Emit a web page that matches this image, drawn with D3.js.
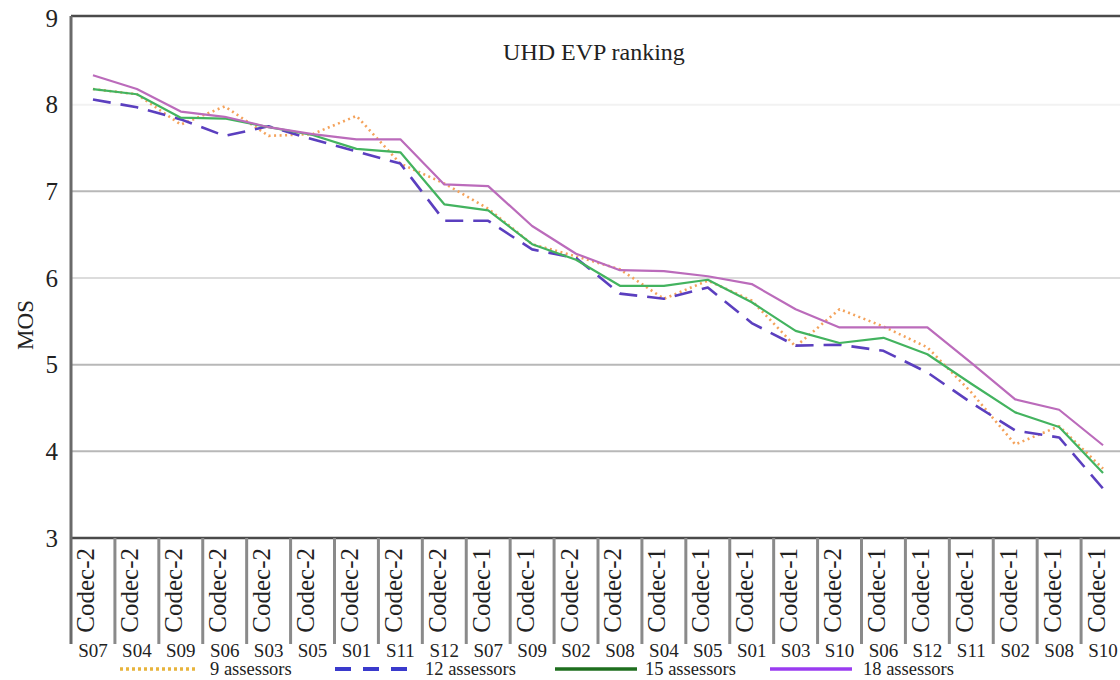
<!DOCTYPE html>
<html>
<head>
<meta charset="utf-8">
<script src="https://cdn.jsdelivr.net/npm/d3@7"></script>
<style>
  body { margin: 0; background: #fff; }
  text { font-family: "Liberation Serif", "DejaVu Serif", serif; fill: #222; }
</style>
</head>
<body>
<svg id="chart" width="1120" height="680"></svg>
<script>
const codecs = ["Codec-2","Codec-2","Codec-2","Codec-2","Codec-2","Codec-2","Codec-2","Codec-2","Codec-2",
  "Codec-1","Codec-1","Codec-2","Codec-2","Codec-1","Codec-1","Codec-1","Codec-1","Codec-2",
  "Codec-1","Codec-1","Codec-1","Codec-1","Codec-1","Codec-1"];
const scenes = ["S07","S04","S09","S06","S03","S05","S01","S11","S12","S07","S09","S02",
  "S08","S04","S05","S01","S03","S10","S06","S12","S11","S02","S08","S10"];

const mos9  = [8.18,8.12,7.77,7.98,7.64,7.66,7.87,7.32,7.09,6.80,6.39,6.25,6.10,5.76,5.97,5.74,5.21,5.64,5.44,5.20,4.68,4.08,4.29,3.80];
const mos12 = [8.06,7.97,7.83,7.64,7.75,7.60,7.46,7.32,6.66,6.66,6.33,6.23,5.82,5.76,5.89,5.48,5.22,5.23,5.16,4.91,4.56,4.24,4.16,3.57];
const mos15 = [8.18,8.12,7.85,7.84,7.74,7.65,7.49,7.45,6.85,6.78,6.39,6.21,5.91,5.91,5.98,5.72,5.39,5.25,5.31,5.12,4.78,4.45,4.28,3.75];
const mos18 = [8.34,8.18,7.92,7.86,7.74,7.66,7.60,7.60,7.08,7.06,6.60,6.28,6.09,6.08,6.02,5.93,5.64,5.43,5.43,5.43,5.02,4.60,4.48,4.07];

const yTicks = [3,4,5,6,7,8,9];

const series = [
  { name: "9 assessors",  values: mos9,  color: "#f4a35c", dash: "2,3.5", width: 2.6, legColor: "#e8b43c", legDash: "3,3", legWidth: 3.5 },
  { name: "12 assessors", values: mos12, color: "#5b3fbf", dash: "18,10", width: 2.6, legColor: "#3a3acc", legDash: "16,12", legWidth: 4 },
  { name: "15 assessors", values: mos15, color: "#43b35f", dash: null,    width: 2.2, legColor: "#1e6e1e", legDash: null, legWidth: 3.5 },
  { name: "18 assessors", values: mos18, color: "#bb6bbb", dash: null,    width: 2.2, legColor: "#9a3cf0", legDash: null, legWidth: 3.5 }
];

const svg = d3.select("#chart");
const plotLeft = 71, plotRight = 1125, plotTop = 16, plotBottom = 538;

const x = d3.scaleBand().domain(d3.range(scenes.length)).range([plotLeft, plotRight]);
const y = d3.scaleLinear().domain([3, 9]).range([plotBottom, plotTop + 2]);

// grid lines
svg.append("g")
  .selectAll("line")
  .data(yTicks.filter(t => t > 3 && t < 9))
  .join("line")
  .attr("x1", plotLeft).attr("x2", plotRight)
  .attr("y1", d => y(d)).attr("y2", d => y(d))
  .attr("stroke", d => d === 8 ? "#f2f2f2" : d === 6 ? "#dcdcdc" : "#b8b8b8")
  .attr("stroke-width", 2);

// frame
svg.append("line").attr("x1", plotLeft).attr("x2", plotRight).attr("y1", plotTop).attr("y2", plotTop)
  .attr("stroke", "#4a4a4a").attr("stroke-width", 2.5);
svg.append("line").attr("x1", plotLeft).attr("x2", plotRight).attr("y1", plotBottom).attr("y2", plotBottom)
  .attr("stroke", "#4a4a4a").attr("stroke-width", 2.5);

// category separators
svg.append("g")
  .selectAll("line")
  .data(d3.range(1, scenes.length))
  .join("line")
  .attr("x1", d => x(d)).attr("x2", d => x(d))
  .attr("y1", plotBottom).attr("y2", 644)
  .attr("stroke", "#8a8a8a").attr("stroke-width", 3);

svg.append("line").attr("x1", plotLeft).attr("x2", plotLeft).attr("y1", plotTop).attr("y2", 644)
  .attr("stroke", "#6a6a6a").attr("stroke-width", 3);

// y tick labels
svg.append("g")
  .selectAll("text")
  .data(yTicks)
  .join("text")
  .attr("x", 58).attr("y", d => y(d))
  .attr("text-anchor", "end").attr("dominant-baseline", "central")
  .attr("font-size", 25)
  .text(d => d);

svg.append("text")
  .attr("transform", "translate(25,325) rotate(-90)")
  .attr("text-anchor", "middle").attr("dominant-baseline", "central")
  .attr("font-size", 23)
  .text("MOS");

svg.append("text")
  .attr("x", 594).attr("y", 52)
  .attr("text-anchor", "middle").attr("dominant-baseline", "central")
  .attr("font-size", 24)
  .text("UHD EVP ranking");

// category labels
const cx = i => x(i) + x.bandwidth() / 2;
svg.append("g")
  .selectAll("text")
  .data(codecs)
  .join("text")
  .attr("transform", (d, i) => `translate(${cx(i) - 7},548) rotate(-90)`)
  .attr("text-anchor", "end").attr("dominant-baseline", "central")
  .attr("font-size", 25)
  .text(d => d);

svg.append("g")
  .selectAll("text")
  .data(scenes)
  .join("text")
  .attr("x", (d, i) => cx(i)).attr("y", 650)
  .attr("text-anchor", "middle").attr("dominant-baseline", "central")
  .attr("font-size", 19)
  .text(d => d);

// lines
const line = d3.line()
  .x((d, i) => cx(i))
  .y(d => y(d));

svg.append("g")
  .selectAll("path")
  .data(series)
  .join("path")
  .attr("d", d => line(d.values))
  .attr("fill", "none")
  .attr("stroke", d => d.color)
  .attr("stroke-width", d => d.width)
  .attr("stroke-dasharray", d => d.dash)
  .attr("stroke-linejoin", "round");

// legend
const legX = [120, 335, 555, 770];
const leg = svg.append("g")
  .selectAll("g")
  .data(series)
  .join("g")
  .attr("transform", (d, i) => `translate(${legX[i]},669)`);

leg.append("line")
  .attr("x1", 0).attr("x2", (d, i) => i === 0 ? 78 : 82)
  .attr("y1", 0).attr("y2", 0)
  .attr("stroke", d => d.legColor)
  .attr("stroke-width", d => d.legWidth)
  .attr("stroke-dasharray", d => d.legDash);

leg.append("text")
  .attr("x", (d, i) => i === 0 ? 90 : i === 3 ? 93 : 90)
  .attr("y", 0)
  .attr("dominant-baseline", "central")
  .attr("font-size", 18.5)
  .text(d => d.name);
</script>
</body>
</html>
